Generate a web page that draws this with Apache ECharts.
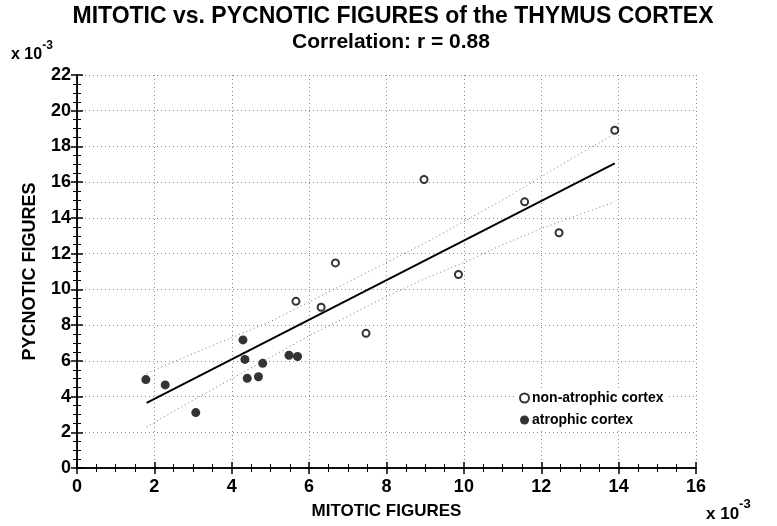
<!DOCTYPE html>
<html>
<head>
<meta charset="utf-8">
<script src="https://cdn.jsdelivr.net/npm/echarts@6/dist/echarts.min.js"></script>
<style>
  html, body { margin: 0; padding: 0; background: #fff; }
  #main { width: 777px; height: 526px; }
</style>
</head>
<body>
<div id="main"></div>
<script>
// values in units of 10^-3
const nonAtrophic = [
  [5.66, 9.33], [6.31, 9.0], [6.68, 11.48], [7.47, 7.54], [8.97, 16.15],
  [9.86, 10.83], [11.57, 14.9], [12.46, 13.17], [13.9, 18.91]
];
const atrophic = [
  [1.78, 4.95], [2.28, 4.65], [3.07, 3.1], [4.29, 7.17], [4.34, 6.08],
  [4.4, 5.02], [4.69, 5.11], [4.8, 5.86], [5.48, 6.31], [5.7, 6.24]
];
const fitLine = [[1.8, 3.65], [13.9, 17.05]];
const bandX = [1.8, 3, 4, 5, 6, 7, 8, 9, 10, 11, 12, 13, 13.9];
const bandUpper = [5.3, 6.4, 7.3, 8.2, 9.3, 10.4, 11.5, 12.6, 13.8, 15.0, 16.3, 17.6, 18.7];
const bandLower = [2.3, 3.8, 5.0, 6.2, 7.4, 8.5, 9.6, 10.6, 11.5, 12.5, 13.4, 14.2, 14.9];

const FONT = '"Liberation Sans", Arial, sans-serif';
const myChart = echarts.init(document.getElementById('main'));

const gridLine = { show: true, lineStyle: { color: '#888', type: [1, 3], width: 1 } };
const tickStyle = { inside: true, length: 6, lineStyle: { color: '#000', width: 1.5 } };
const minor = { show: true, splitNumber: 4, length: 4, lineStyle: { color: '#000', width: 1 } };

const option = {
  animation: false,
  backgroundColor: '#fff',
  legend: {
    orient: 'vertical',
    left: 515, top: 389,
    itemWidth: 9, itemHeight: 9, itemGap: 8,
    backgroundColor: '#fff',
    padding: [2, 4],
    data: ['non-atrophic cortex', 'atrophic cortex'],
    textStyle: { fontFamily: FONT, fontSize: 14, fontWeight: 'bold', color: '#000', padding: [0, 0, 0, -2] }
  },
  grid: { left: 77, right: 81, top: 75, bottom: 58 },
  xAxis: [
    {
      type: 'value', min: 0, max: 16, interval: 2,
      name: 'MITOTIC FIGURES', nameLocation: 'middle', nameGap: 35,
      nameTextStyle: { fontFamily: FONT, fontSize: 17, fontWeight: 'bold', color: '#000' },
      axisLine: { show: true, lineStyle: { color: '#000', width: 1.5 } },
      axisTick: tickStyle, minorTick: minor,
      axisLabel: { fontFamily: FONT, fontSize: 18, fontWeight: 'bold', color: '#000', margin: 10 },
      splitLine: gridLine
    },
    {
      type: 'value', min: 0, max: 16, interval: 2, position: 'top',
      axisLine: { show: true, lineStyle: { color: '#000', width: 1.5 } },
      axisTick: tickStyle, minorTick: minor,
      axisLabel: { show: false }, splitLine: { show: false }
    }
  ],
  yAxis: [
    {
      type: 'value', min: 0, max: 22, interval: 2,
      name: 'PYCNOTIC FIGURES', nameLocation: 'middle', nameGap: 38,
      nameTextStyle: { fontFamily: FONT, fontSize: 18, fontWeight: 'bold', color: '#000' },
      axisLine: { show: true, lineStyle: { color: '#000', width: 1.5 } },
      axisTick: tickStyle, minorTick: minor,
      axisLabel: { fontFamily: FONT, fontSize: 18, fontWeight: 'bold', color: '#000', margin: 6 },
      splitLine: gridLine
    },
    {
      type: 'value', min: 0, max: 22, interval: 2, position: 'right',
      axisLine: { show: true, lineStyle: { color: '#000', width: 1.5 } },
      axisTick: tickStyle, minorTick: minor,
      axisLabel: { show: false }, splitLine: { show: false }
    }
  ],
  graphic: [
    {
      type: 'text', x: 393, y: 5,
      style: {
        text: 'MITOTIC vs. PYCNOTIC FIGURES of the THYMUS CORTEX', align: 'center',
        font: 'bold 23px ' + FONT, fill: '#000'
      }
    },
    {
      type: 'text', x: 391, y: 32,
      style: {
        text: 'Correlation: r = 0.88', align: 'center',
        font: 'bold 21px ' + FONT, fill: '#000'
      }
    },
    {
      type: 'text', left: 11, top: 40,
      style: {
        text: '{a|x 10}{b|-3}',
        rich: {
          a: { fontFamily: FONT, fontSize: 16, fontWeight: 'bold', fill: '#000', padding: [7, 0, 0, 0] },
          b: { fontFamily: FONT, fontSize: 12, fontWeight: 'bold', fill: '#000', verticalAlign: 'top' }
        }
      }
    },
    {
      type: 'text', left: 706, top: 498,
      style: {
        text: '{a|x 10}{b|-3}',
        rich: {
          a: { fontFamily: FONT, fontSize: 17, fontWeight: 'bold', fill: '#000', padding: [8, 0, 0, 0] },
          b: { fontFamily: FONT, fontSize: 13, fontWeight: 'bold', fill: '#000', verticalAlign: 'top' }
        }
      }
    }
  ],
  series: [
    {
      name: 'upper', type: 'line', showSymbol: false, silent: true,
      data: bandX.map((x, i) => [x, bandUpper[i]]),
      lineStyle: { color: '#777', width: 1, type: [1, 3] }
    },
    {
      name: 'lower', type: 'line', showSymbol: false, silent: true,
      data: bandX.map((x, i) => [x, bandLower[i]]),
      lineStyle: { color: '#777', width: 1, type: [1, 3] }
    },
    {
      name: 'fit', type: 'line', showSymbol: false, silent: true,
      data: fitLine,
      lineStyle: { color: '#000', width: 2 }
    },
    {
      name: 'non-atrophic cortex', type: 'scatter',
      symbol: 'emptyCircle', symbolSize: 7,
      itemStyle: { color: '#000', borderColor: '#000', borderWidth: 2 },
      data: nonAtrophic
    },
    {
      name: 'atrophic cortex', type: 'scatter',
      symbol: 'circle', symbolSize: 9,
      itemStyle: { color: '#000' },
      data: atrophic
    }
  ]
};

myChart.setOption(option);
</script>
</body>
</html>
